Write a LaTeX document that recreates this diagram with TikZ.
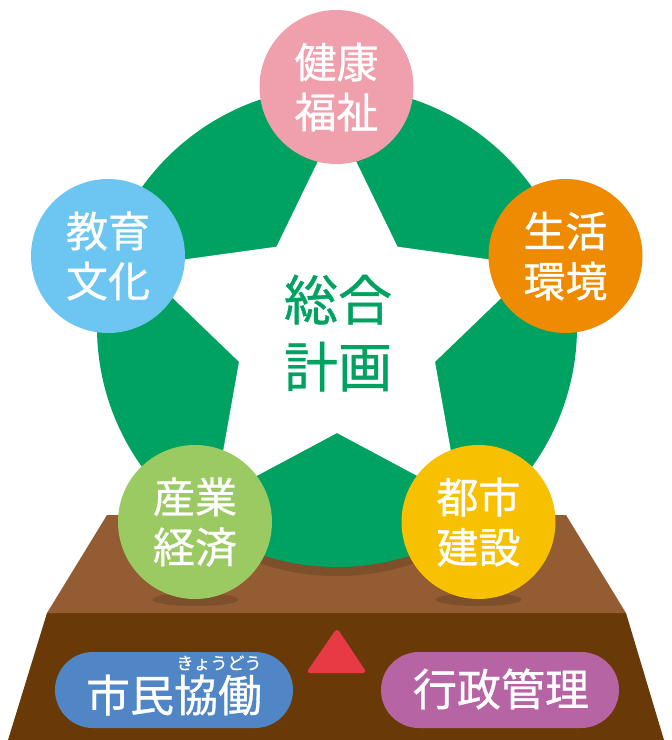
\documentclass[tikz,border=0pt]{standalone}
\usepackage{fontspec}
\newfontfamily\jp[FakeBold=0.7]{Noto Sans CJK JP}
\definecolor{gr}{HTML}{00A261}
\definecolor{pinkc}{HTML}{F09FAD}
\definecolor{bluec}{HTML}{6CC6F1}
\definecolor{orangec}{HTML}{EF8B00}
\definecolor{lgreenc}{HTML}{9CCA62}
\definecolor{yellowc}{HTML}{F7C000}
\definecolor{topbrown}{HTML}{935C32}
\definecolor{frontbrown}{HTML}{693A08}
\definecolor{shadowbrown}{HTML}{7D4F2A}
\definecolor{pillblue}{HTML}{5085C6}
\definecolor{pillpurple}{HTML}{B764A4}
\definecolor{redc}{HTML}{E73A45}
\tikzset{
  field/.style={circle, minimum size=154pt, inner sep=0pt, text=white, align=center,
    font=\jp\fontsize{42}{50}\selectfont},
  pill/.style={rounded corners=38pt, minimum width=238pt, minimum height=76pt, inner sep=0pt},
  pilltext/.style={text=white, font=\jp\fontsize{44}{50}\selectfont, inner sep=0pt},
}
\begin{document}
\begin{tikzpicture}[x=1pt,y=-1pt]
\useasboundingbox (0,0) rectangle (672,740);
\fill[white] (0,0) rectangle (672,740);
% pedestal
\fill[frontbrown] (47,613) -- (626,613) -- (664,740) -- (8,740) -- cycle;
\fill[topbrown] (107,515) -- (566,515) -- (626,613) -- (47,613) -- cycle;
\begin{scope}
  \clip (107,515) -- (566,515) -- (626,613) -- (47,613) -- cycle;
  \fill[shadowbrown] (337,336) circle (240);
\end{scope}
\fill[shadowbrown] (195.5,599.5) ellipse (43 and 6.5);
\fill[shadowbrown] (478.5,599.5) ellipse (43 and 6.5);
% green disk and star
\fill[gr] (337,327) circle (240);
\fill[white] (337,122) -- (397.5,246.7) -- (534.8,265.7) -- (435,361.8) -- (459.3,498.3)
  -- (337,433) -- (214.7,498.3) -- (239,361.8) -- (139.2,265.7) -- (276.5,246.7) -- cycle;
\node[text=gr, align=center, font=\jp\fontsize{54}{67}\selectfont] (plan) at (338,333) {総合\\計画};
% fields
\node[field, fill=pinkc] (health) at (336.5,87) {健康\\福祉};
\node[field, fill=bluec] (edu) at (108,256) {教育\\文化};
\node[field, fill=orangec] (life) at (565.5,256) {生活\\環境};
\node[field, fill=lgreenc] (ind) at (195,522) {産業\\経済};
\node[field, fill=yellowc] (city) at (478.5,522) {都市\\建設};
% pills
\node[pill, fill=pillblue] (coop) at (174,690) {};
\node[pilltext] (cooptext) at (174,695) {市民協働};
\node[text=white, font=\jp\fontsize{17}{20}\selectfont, inner sep=0pt] (ruby) at (219,663) {きょうどう};
\node[pill, fill=pillpurple] (admin) at (500,690) {};
\node[pilltext] (admintext) at (501,689) {行政管理};
% triangle
\fill[redc, rounded corners=4pt] (337,628) -- (367,673) -- (306,673) -- cycle;
\end{tikzpicture}
\end{document}
